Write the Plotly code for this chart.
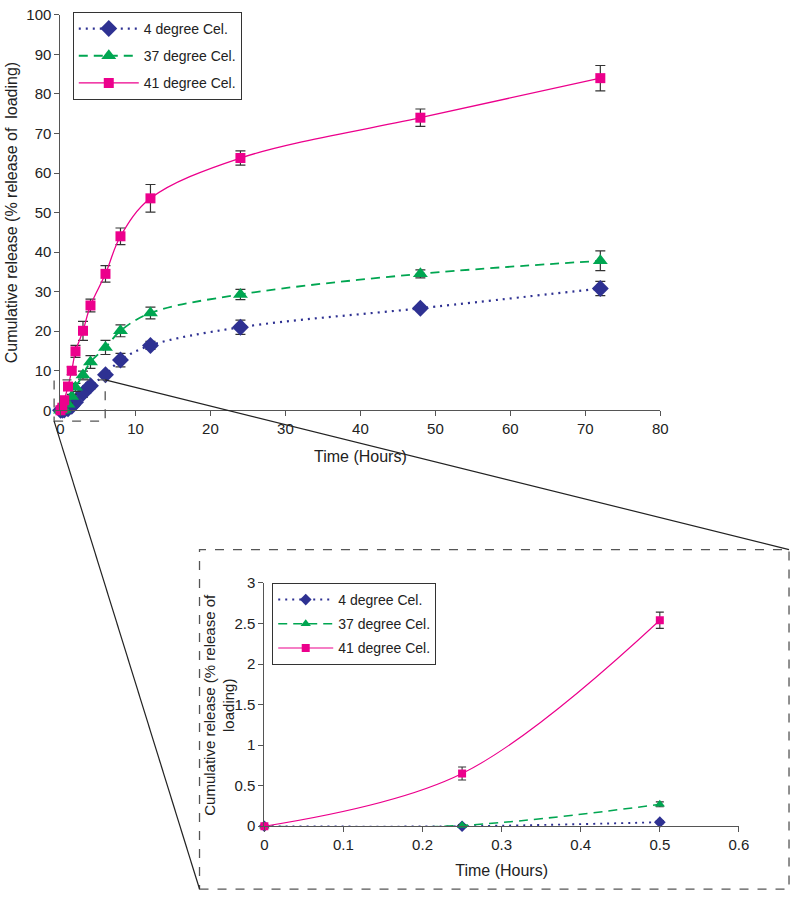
import plotly.graph_objects as go

# ---------------- data ----------------
time_h = [0, 0.25, 0.5, 1, 1.5, 2, 3, 4, 6, 8, 12, 24, 48, 72]
series_names = ["4 degree Cel.", "37 degree Cel.", "41 degree Cel."]
rel_4 = [0, 0.0, 0.05, 0.4, 1.0, 2.0, 4.3, 6.2, 9.0, 12.7, 16.4, 21.0, 25.8, 30.8]
err_4 = [0, 0.01, 0.02, 0.3, 0.5, 0.8, 1.0, 0.8, 0.5, 1.7, 1.0, 1.8, 0.5, 1.8]
rel_37 = [0, 0.01, 0.27, 1.5, 3.5, 5.8, 8.9, 12.2, 15.9, 20.1, 24.6, 29.3, 34.5, 37.8]
err_37 = [0, 0.01, 0.03, 0.3, 0.5, 1.0, 1.0, 1.6, 1.8, 1.5, 1.5, 1.3, 1.0, 2.5]
rel_41 = [0, 0.65, 2.54, 6.0, 10.0, 14.9, 20.1, 26.5, 34.5, 44.0, 53.6, 63.8, 74.0, 84.0]
err_41 = [0, 0.08, 0.10, 0.8, 1.0, 1.5, 2.4, 1.6, 2.1, 2.1, 3.5, 1.8, 2.2, 3.2]

main_xticks = [0, 10, 20, 30, 40, 50, 60, 70, 80]
main_yticks = [0, 10, 20, 30, 40, 50, 60, 70, 80, 90, 100]
inset_xticks = [0, 0.1, 0.2, 0.3, 0.4, 0.5, 0.6]
inset_yticks = [0, 0.5, 1, 1.5, 2, 2.5, 3]
inset_n = 3  # points with t <= 0.5 h
inset_ytitle = "Cumulative release (% release of<br>loading)"

# ---------------- styles ----------------
colors = ["#2E3192", "#00A651", "#EC008C"]
dashes = ["2px,5px", "9px,6px", "solid"]
widths = [2.2, 1.8, 1.3]
symbols = ["diamond", "triangle-up", "square"]
main_sizes = [13, 13, 10]
inset_sizes = [9, 9, 8]
FONT = "Liberation Sans, Arial, sans-serif"


def pxx(x):
    return x / 800


def pyy(y):
    return 1 - y / 899


fig = go.Figure()
values = [rel_4, rel_37, rel_41]
errors = [err_4, err_37, err_41]

for i in range(3):
    fig.add_trace(go.Scatter(
        x=time_h, y=values[i], name=series_names[i], mode="lines+markers",
        line=dict(color=colors[i], dash=dashes[i], width=widths[i], shape="spline"),
        marker=dict(symbol=symbols[i], size=main_sizes[i], color=colors[i]),
        error_y=dict(type="data", array=errors[i], visible=True, color="#333333",
                     thickness=1.2, width=5),
        cliponaxis=False, xaxis="x", yaxis="y", legend="legend",
        legendgroup="m%d" % i,
    ))

for i in range(3):
    fig.add_trace(go.Scatter(
        x=time_h[:inset_n], y=values[i][:inset_n], name=series_names[i],
        mode="lines+markers",
        line=dict(color=colors[i], dash=dashes[i], width=widths[i] * 0.85, shape="spline"),
        marker=dict(symbol=symbols[i], size=inset_sizes[i], color=colors[i]),
        error_y=dict(type="data", array=errors[i][:inset_n], visible=True,
                     color="#333333", thickness=1.1, width=4),
        cliponaxis=False, xaxis="x2", yaxis="y2", legend="legend2",
        legendgroup="i%d" % i,
    ))

axis_common = dict(showline=True, linecolor="#555555", linewidth=1.2, ticks="outside",
                   ticklen=5, tickcolor="#555555", showgrid=False, zeroline=False,
                   tickfont=dict(family=FONT, size=15, color="#222222"))

fig.update_layout(
    width=800, height=899, margin=dict(l=0, r=0, t=0, b=0),
    paper_bgcolor="white", plot_bgcolor="white",
    font=dict(family=FONT, color="#222222"),
    xaxis=dict(domain=[pxx(57.5), pxx(668)], range=[0, 80], tickvals=main_xticks,
               anchor="y",
               title=dict(text="Time (Hours)", font=dict(size=16), standoff=14),
               **axis_common),
    yaxis=dict(domain=[pyy(409), pyy(6)], range=[0, 100], tickvals=main_yticks,
               anchor="x",
               title=dict(text="Cumulative release (% release of  loading)",
                          font=dict(size=16), standoff=4),
               **axis_common),
    xaxis2=dict(domain=[pxx(265), pxx(748)], range=[0, 0.6], tickvals=inset_xticks,
                anchor="y2",
                title=dict(text="Time (Hours)", font=dict(size=16), standoff=12),
                **axis_common),
    yaxis2=dict(domain=[pyy(833), pyy(585)], range=[0, 3], tickvals=inset_yticks,
                anchor="x2", **axis_common),
    legend=dict(x=pxx(70), y=pyy(3), xanchor="left", yanchor="top",
                bgcolor="white", bordercolor="#333333", borderwidth=1,
                font=dict(family=FONT, size=14, color="#222222"),
                tracegroupgap=6, itemwidth=60),
    legend2=dict(x=pxx(273), y=pyy(585), xanchor="left", yanchor="top",
                 bgcolor="white", bordercolor="#333333", borderwidth=1,
                 font=dict(family=FONT, size=14, color="#222222"),
                 tracegroupgap=3, itemwidth=55),
    showlegend=True,
    annotations=[dict(text=inset_ytitle, textangle=-90, xref="paper", yref="paper",
                      x=pxx(219), y=pyy(709), xanchor="center", yanchor="middle",
                      showarrow=False, font=dict(family=FONT, size=15, color="#222222"))],
)

shape_line = dict(color="#555555", width=1.3, dash="dash")
fig.add_shape(type="rect", xref="paper", yref="paper",
              x0=pxx(51), x1=pxx(103), y0=pyy(420), y1=pyy(378), line=shape_line)
fig.add_shape(type="rect", xref="paper", yref="paper",
              x0=pxx(199), x1=pxx(799), y0=pyy(897), y1=pyy(551), line=shape_line)
fig.add_shape(type="line", xref="paper", yref="paper",
              x0=pxx(103), y0=pyy(378), x1=pxx(799), y1=pyy(551),
              line=dict(color="#222222", width=1.2))
fig.add_shape(type="line", xref="paper", yref="paper",
              x0=pxx(51), y0=pyy(420), x1=pxx(199), y1=pyy(897),
              line=dict(color="#222222", width=1.2))

fig.write_html(
    "out.html",
    post_script="document.body.style.margin='0';",
    config={"displayModeBar": False},
)
